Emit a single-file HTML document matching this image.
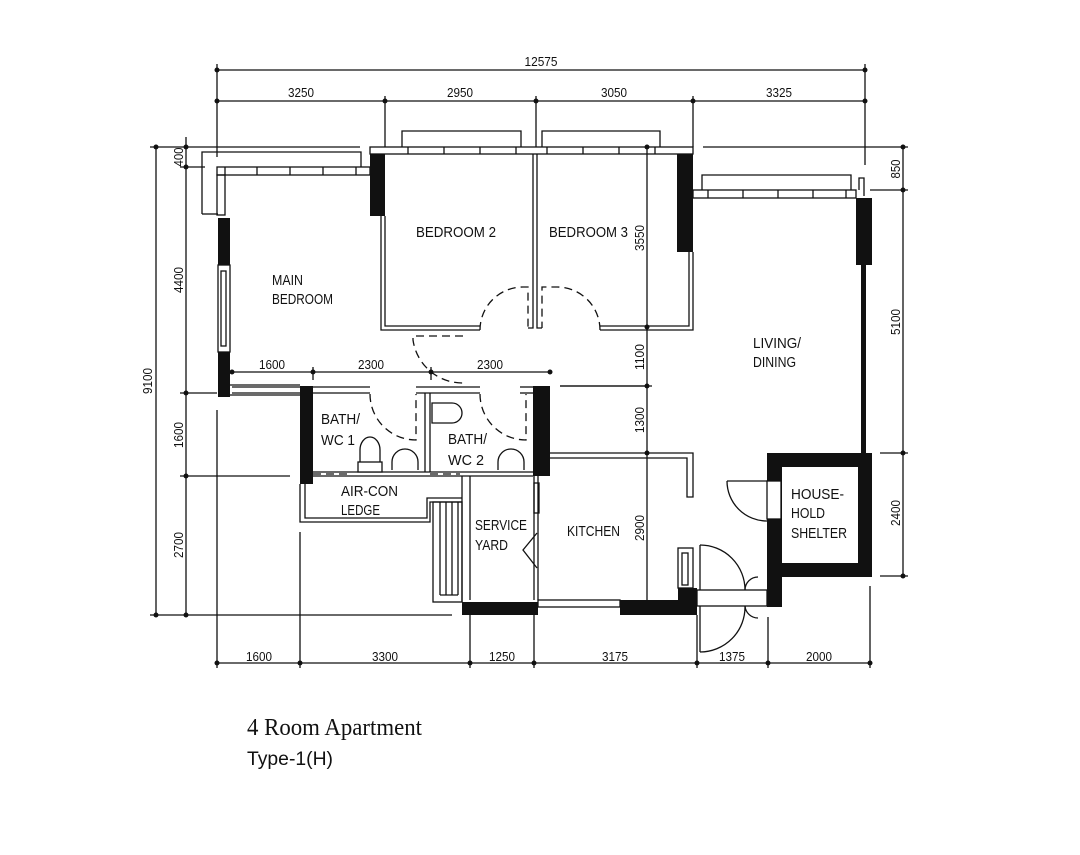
<!DOCTYPE html>
<html><head><meta charset="utf-8"><style>
html,body{margin:0;padding:0;background:#fff;width:1080px;height:855px;overflow:hidden}
svg{display:block}
text{font-family:"Liberation Sans",sans-serif;fill:#111}
.d{font-size:13px}
.r{font-size:15px}
</style></head><body>
<svg width="1080" height="855" viewBox="0 0 1080 855" xmlns="http://www.w3.org/2000/svg">
<g stroke="#111" stroke-width="1.3" fill="none">
<line x1="217" y1="70" x2="865" y2="70"/>
<line x1="217" y1="101" x2="865" y2="101"/>
<line x1="217" y1="64" x2="217" y2="157"/>
<line x1="385" y1="96" x2="385" y2="147"/>
<line x1="536" y1="96" x2="536" y2="147"/>
<line x1="693" y1="96" x2="693" y2="147"/>
<line x1="865" y1="64" x2="865" y2="165"/>
<line x1="156" y1="147" x2="156" y2="615"/>
<line x1="186" y1="137" x2="186" y2="615"/>
<line x1="150" y1="147" x2="360" y2="147"/>
<line x1="180" y1="167" x2="205" y2="167"/>
<line x1="180" y1="393" x2="217" y2="393"/>
<line x1="180" y1="476" x2="290" y2="476"/>
<line x1="150" y1="615" x2="452" y2="615"/>
<line x1="217" y1="663" x2="870" y2="663"/>
<line x1="217" y1="410" x2="217" y2="668"/>
<line x1="300" y1="532" x2="300" y2="668"/>
<line x1="470" y1="615" x2="470" y2="668"/>
<line x1="534" y1="615" x2="534" y2="668"/>
<line x1="697" y1="615" x2="697" y2="668"/>
<line x1="768" y1="617" x2="768" y2="668"/>
<line x1="870" y1="586" x2="870" y2="668"/>
<line x1="903" y1="147" x2="903" y2="576"/>
<line x1="703" y1="147" x2="908" y2="147"/>
<line x1="870" y1="190" x2="908" y2="190"/>
<line x1="880" y1="453" x2="908" y2="453"/>
<line x1="880" y1="576" x2="908" y2="576"/>
<line x1="647" y1="147" x2="647" y2="603"/>
<line x1="560" y1="386" x2="652" y2="386"/>
<line x1="232" y1="372" x2="550" y2="372"/>
<line x1="313" y1="367" x2="313" y2="380"/>
<line x1="431" y1="367" x2="431" y2="380"/>
</g>
<g fill="#111">
<circle cx="217" cy="70" r="2.5"/><circle cx="865" cy="70" r="2.5"/>
<circle cx="217" cy="101" r="2.5"/><circle cx="385" cy="101" r="2.5"/><circle cx="536" cy="101" r="2.5"/><circle cx="693" cy="101" r="2.5"/><circle cx="865" cy="101" r="2.5"/>
<circle cx="156" cy="147" r="2.5"/><circle cx="156" cy="615" r="2.5"/>
<circle cx="186" cy="147" r="2.5"/><circle cx="186" cy="167" r="2.5"/><circle cx="186" cy="393" r="2.5"/><circle cx="186" cy="476" r="2.5"/><circle cx="186" cy="615" r="2.5"/>
<circle cx="217" cy="663" r="2.5"/><circle cx="300" cy="663" r="2.5"/><circle cx="470" cy="663" r="2.5"/><circle cx="534" cy="663" r="2.5"/><circle cx="697" cy="663" r="2.5"/><circle cx="768" cy="663" r="2.5"/><circle cx="870" cy="663" r="2.5"/>
<circle cx="903" cy="147" r="2.5"/><circle cx="903" cy="190" r="2.5"/><circle cx="903" cy="453" r="2.5"/><circle cx="903" cy="576" r="2.5"/>
<circle cx="647" cy="147" r="2.5"/><circle cx="647" cy="327" r="2.5"/><circle cx="647" cy="386" r="2.5"/><circle cx="647" cy="453" r="2.5"/><circle cx="647" cy="603" r="2.5"/>
<circle cx="232" cy="372" r="2.5"/><circle cx="313" cy="372" r="2.5"/><circle cx="431" cy="372" r="2.5"/><circle cx="550" cy="372" r="2.5"/>
</g>
<g stroke="#111" stroke-width="1.3" fill="none">
<polyline points="202,214 202,152 361,152 361,167"/>
<line x1="202" y1="214" x2="218" y2="214"/>
<rect x="217" y="167" width="153" height="8"/>
<line x1="225" y1="167" x2="225" y2="175"/><line x1="257" y1="167" x2="257" y2="175"/><line x1="290" y1="167" x2="290" y2="175"/><line x1="323" y1="167" x2="323" y2="175"/><line x1="356" y1="167" x2="356" y2="175"/>
<rect x="217" y="175" width="8" height="40"/>
<rect x="218" y="265" width="12" height="87"/><rect x="221" y="271" width="5" height="75"/>
<line x1="230" y1="385" x2="300" y2="385"/><line x1="230" y1="395" x2="300" y2="395"/>
<rect x="370" y="147" width="323" height="7"/>
<polyline points="402,147 402,131 521,131 521,147"/>
<polyline points="542,147 542,131 660,131 660,147"/>
<line x1="408" y1="147" x2="408" y2="154"/><line x1="444" y1="147" x2="444" y2="154"/><line x1="480" y1="147" x2="480" y2="154"/><line x1="516" y1="147" x2="516" y2="154"/>
<line x1="547" y1="147" x2="547" y2="154"/><line x1="583" y1="147" x2="583" y2="154"/><line x1="619" y1="147" x2="619" y2="154"/><line x1="655" y1="147" x2="655" y2="154"/>
<polyline points="381,216 381,330 480,330"/><polyline points="385,216 385,326 480,326"/>
<polyline points="528,328 533,328 533,154"/><polyline points="542,328 537,328 537,154"/>
<polyline points="600,330 693,330 693,252"/><polyline points="600,326 689,326 689,252"/>
<rect x="693" y="190" width="163" height="8"/>
<polyline points="702,190 702,175 851,175 851,190"/>
<polyline points="859,190 859,178 864,178 864,196"/>
<line x1="708" y1="190" x2="708" y2="198"/><line x1="743" y1="190" x2="743" y2="198"/><line x1="778" y1="190" x2="778" y2="198"/><line x1="813" y1="190" x2="813" y2="198"/><line x1="846" y1="190" x2="846" y2="198"/>
<line x1="232" y1="387" x2="370" y2="387"/><line x1="232" y1="393" x2="370" y2="393"/>
<line x1="416" y1="387" x2="480" y2="387"/><line x1="416" y1="393" x2="480" y2="393"/>
<line x1="520" y1="387" x2="533" y2="387"/><line x1="520" y1="393" x2="533" y2="393"/>
<line x1="425" y1="393" x2="425" y2="472"/><line x1="430" y1="393" x2="430" y2="472"/>
<line x1="313" y1="472" x2="533" y2="472"/><line x1="313" y1="476" x2="533" y2="476"/>
<line x1="560" y1="386" x2="647" y2="386"/>
<polyline points="300,484 300,522 430,522 430,502 462,502"/>
<polyline points="305,484 305,518 427,518 427,498 462,498"/>
<rect x="433" y="502" width="29" height="100"/>
<line x1="440" y1="502" x2="440" y2="595"/><line x1="446" y1="502" x2="446" y2="595"/><line x1="452" y1="502" x2="452" y2="595"/><line x1="458" y1="502" x2="458" y2="595"/>
<line x1="440" y1="595" x2="458" y2="595"/>
<line x1="462" y1="476" x2="462" y2="602"/><line x1="470" y1="476" x2="470" y2="600"/>
<line x1="534" y1="476" x2="534" y2="600"/><line x1="538" y1="476" x2="538" y2="600"/>
<rect x="534" y="483" width="5" height="30"/>
<polyline points="537,533 523,550 537,568"/>
<line x1="550" y1="453" x2="690" y2="453"/><polyline points="550,458 687,458 687,497 693,497 693,453 690,453"/>
<rect x="538" y="600" width="82" height="7"/>
<rect x="678" y="548" width="15" height="40"/><rect x="682" y="553" width="6" height="32"/>
<rect x="697" y="590" width="70" height="16"/>
<path d="M700 545 A 45 45 0 0 1 745 590"/><line x1="700" y1="545" x2="700" y2="590"/>
<path d="M700 652 A 45 45 0 0 0 745 606"/><line x1="700" y1="606" x2="700" y2="652"/>
<path d="M758 577 A 13 13 0 0 0 745 590"/><path d="M758 618 A 13 13 0 0 1 745 606"/>
<path d="M727 481 A 40 40 0 0 0 767 521"/><line x1="727" y1="481" x2="767" y2="481"/>
</g>
<g stroke="#111" stroke-width="1.3" fill="none" stroke-dasharray="8,5">
<path d="M480 330 A 43 43 0 0 1 523 287 L528 287 L528 328"/>
<path d="M600 330 A 43 43 0 0 0 557 287 L542 287 L542 328"/>
<path d="M463 336 L413 336 L413 340 A 50 50 0 0 0 463 383"/>
<path d="M370 394 A 46 46 0 0 0 416 440 L416 394"/>
<path d="M480 394 A 46 46 0 0 0 526 440 L526 394"/>
<line x1="313" y1="474" x2="350" y2="474"/><line x1="430" y1="474" x2="460" y2="474"/>
</g>
<g stroke="#111" stroke-width="1.3" fill="#fff">
<path d="M360 470 L360 450 A 10 13 0 0 1 380 450 L380 470 Z"/><rect x="358" y="462" width="24" height="10"/>
<path d="M392 470 L392 462 A 13 13 0 0 1 418 462 L418 470"/>
<path d="M498 470 L498 462 A 13 13 0 0 1 524 462 L524 470"/>
<path d="M432 403 L452 403 A 10 10 0 0 1 452 423 L432 423 Z"/>
</g>
<g fill="#111">
<rect x="370" y="154" width="15" height="62"/>
<rect x="218" y="218" width="12" height="47"/>
<rect x="218" y="352" width="12" height="45"/>
<rect x="677" y="154" width="16" height="98"/>
<rect x="856" y="198" width="16" height="67"/>
<rect x="861" y="265" width="5" height="190"/>
<rect x="300" y="386" width="13" height="98"/>
<rect x="533" y="386" width="17" height="90"/>
<rect x="462" y="602" width="76" height="13"/>
<rect x="620" y="600" width="77" height="15"/>
<rect x="678" y="588" width="19" height="27"/>
<path d="M767 453 H872 V577 H782 V607 H767 Z M782 467 V563 H858 V467 Z" fill-rule="evenodd"/>
</g>
<rect x="767" y="481" width="14" height="38" fill="#fff" stroke="#111" stroke-width="1.3"/>
<g class="d" text-anchor="middle" lengthAdjust="spacingAndGlyphs">
<text x="541" y="66" textLength="33" lengthAdjust="spacingAndGlyphs">12575</text>
<text x="301" y="97" textLength="26" lengthAdjust="spacingAndGlyphs">3250</text>
<text x="460" y="97" textLength="26" lengthAdjust="spacingAndGlyphs">2950</text>
<text x="614" y="97" textLength="26" lengthAdjust="spacingAndGlyphs">3050</text>
<text x="779" y="97" textLength="26" lengthAdjust="spacingAndGlyphs">3325</text>
<text x="259" y="661" textLength="26" lengthAdjust="spacingAndGlyphs">1600</text>
<text x="385" y="661" textLength="26" lengthAdjust="spacingAndGlyphs">3300</text>
<text x="502" y="661" textLength="26" lengthAdjust="spacingAndGlyphs">1250</text>
<text x="615" y="661" textLength="26" lengthAdjust="spacingAndGlyphs">3175</text>
<text x="732" y="661" textLength="26" lengthAdjust="spacingAndGlyphs">1375</text>
<text x="819" y="661" textLength="26" lengthAdjust="spacingAndGlyphs">2000</text>
<text x="272" y="369" textLength="26" lengthAdjust="spacingAndGlyphs">1600</text>
<text x="371" y="369" textLength="26" lengthAdjust="spacingAndGlyphs">2300</text>
<text x="490" y="369" textLength="26" lengthAdjust="spacingAndGlyphs">2300</text>
<text transform="translate(152,381) rotate(-90)" textLength="26" lengthAdjust="spacingAndGlyphs">9100</text>
<text transform="translate(183,157) rotate(-90)" textLength="19" lengthAdjust="spacingAndGlyphs">400</text>
<text transform="translate(183,280) rotate(-90)" textLength="26" lengthAdjust="spacingAndGlyphs">4400</text>
<text transform="translate(183,435) rotate(-90)" textLength="26" lengthAdjust="spacingAndGlyphs">1600</text>
<text transform="translate(183,545) rotate(-90)" textLength="26" lengthAdjust="spacingAndGlyphs">2700</text>
<text transform="translate(644,238) rotate(-90)" textLength="26" lengthAdjust="spacingAndGlyphs">3550</text>
<text transform="translate(644,357) rotate(-90)" textLength="26" lengthAdjust="spacingAndGlyphs">1100</text>
<text transform="translate(644,420) rotate(-90)" textLength="26" lengthAdjust="spacingAndGlyphs">1300</text>
<text transform="translate(644,528) rotate(-90)" textLength="26" lengthAdjust="spacingAndGlyphs">2900</text>
<text transform="translate(900,169) rotate(-90)" textLength="19" lengthAdjust="spacingAndGlyphs">850</text>
<text transform="translate(900,322) rotate(-90)" textLength="26" lengthAdjust="spacingAndGlyphs">5100</text>
<text transform="translate(900,513) rotate(-90)" textLength="26" lengthAdjust="spacingAndGlyphs">2400</text>
</g>
<g class="r">
<text x="416" y="237" textLength="80" lengthAdjust="spacingAndGlyphs">BEDROOM 2</text>
<text x="549" y="237" textLength="79" lengthAdjust="spacingAndGlyphs">BEDROOM 3</text>
<text x="272" y="285" textLength="31" lengthAdjust="spacingAndGlyphs">MAIN</text><text x="272" y="304" textLength="61" lengthAdjust="spacingAndGlyphs">BEDROOM</text>
<text x="753" y="348" textLength="48" lengthAdjust="spacingAndGlyphs">LIVING/</text><text x="753" y="367" textLength="43" lengthAdjust="spacingAndGlyphs">DINING</text>
<text x="321" y="424" textLength="39" lengthAdjust="spacingAndGlyphs">BATH/</text><text x="321" y="445" textLength="34" lengthAdjust="spacingAndGlyphs">WC 1</text>
<text x="448" y="444" textLength="39" lengthAdjust="spacingAndGlyphs">BATH/</text><text x="448" y="465" textLength="36" lengthAdjust="spacingAndGlyphs">WC 2</text>
<text x="341" y="496" textLength="57" lengthAdjust="spacingAndGlyphs">AIR-CON</text><text x="341" y="515" textLength="39" lengthAdjust="spacingAndGlyphs">LEDGE</text>
<text x="475" y="530" textLength="52" lengthAdjust="spacingAndGlyphs">SERVICE</text><text x="475" y="550" textLength="33" lengthAdjust="spacingAndGlyphs">YARD</text>
<text x="567" y="536" textLength="53" lengthAdjust="spacingAndGlyphs">KITCHEN</text>
<text x="791" y="499" textLength="53" lengthAdjust="spacingAndGlyphs">HOUSE-</text><text x="791" y="518" textLength="34" lengthAdjust="spacingAndGlyphs">HOLD</text><text x="791" y="538" textLength="56" lengthAdjust="spacingAndGlyphs">SHELTER</text>
</g>
<text x="247" y="735" textLength="175" lengthAdjust="spacingAndGlyphs" style="font-family:'Liberation Serif',serif;font-size:24px">4 Room Apartment</text>
<text x="247" y="765" textLength="86" lengthAdjust="spacingAndGlyphs" style="font-size:19px">Type-1(H)</text>
</svg>
</body></html>
